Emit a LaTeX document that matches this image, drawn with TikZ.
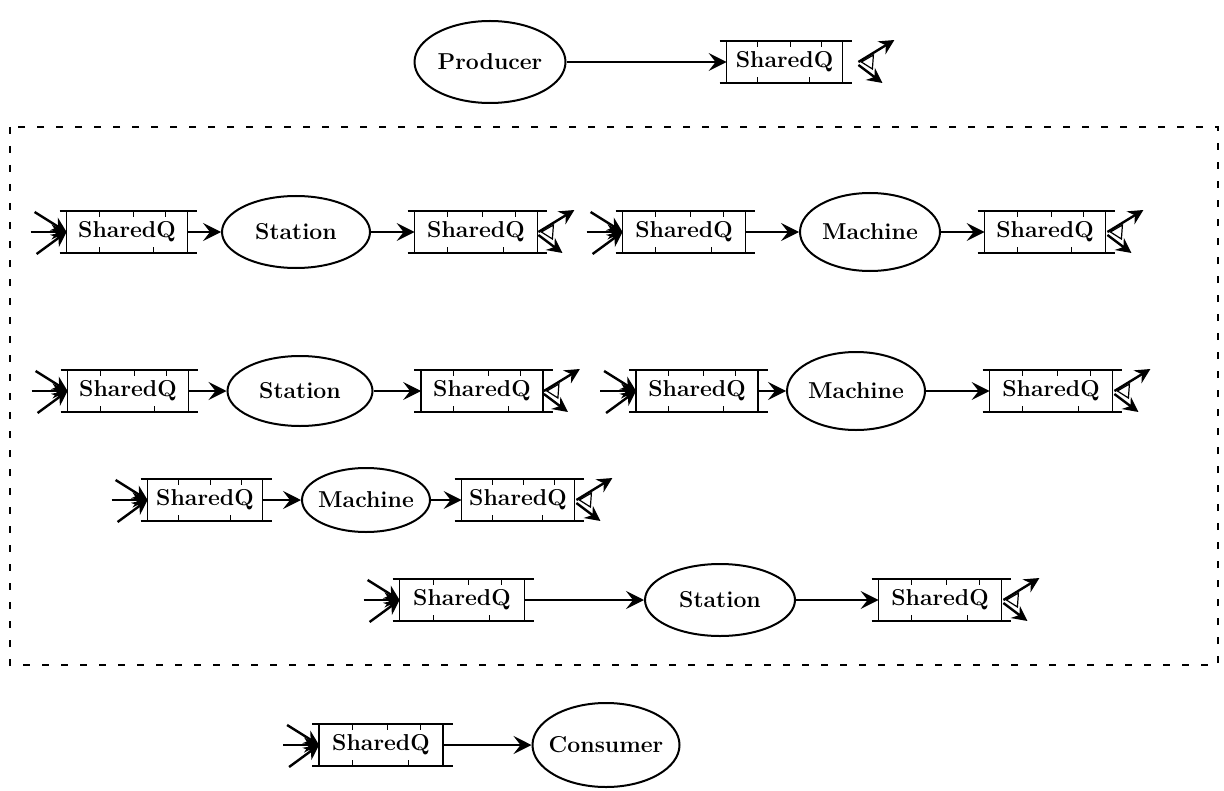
\documentclass[tikz,border=0pt]{standalone}
\usetikzlibrary{arrows.meta,calc,shapes.geometric}
\tikzset{
 proc/.style={ellipse, draw, line width=1pt, inner xsep=-5pt, inner ysep=0pt, font=\fontsize{11.5}{14}\selectfont\bfseries},
 qbox/.style={rectangle, inner sep=0pt, minimum height=20.5pt, font=\fontsize{11.5}{14}\selectfont\bfseries},
 qline/.style={line width=0.7pt},
 tick/.style={line width=0.5pt},
 conn/.style={line width=0.6pt, -{Stealth[length=9pt,width=9pt,inset=3.5pt]}},
 fanarr/.style={line width=1.2pt, -{Stealth[length=7.5pt,width=7.5pt,inset=2.5pt]}},
 frame/.style={line width=1pt, dash pattern=on 3.5pt off 6pt},
}
\newcommand\mkq[4]{%
 \node[qbox, minimum width=#4] (#1) at (#2,#3) {SharedQ};
 \draw[qline] ([xshift=-3.5pt]#1.north west) -- ([xshift=5pt]#1.north east);
 \draw[qline] ([xshift=-3.5pt]#1.south west) -- ([xshift=5pt]#1.south east);
 \draw[qline] (#1.north west) -- (#1.south west) (#1.north east) -- (#1.south east);
 \foreach \p in {0.27,0.55,0.82} \draw[tick] ($(#1.north west)!\p!(#1.north east)$) -- ++(0pt,-3pt);
 \foreach \p in {0.27,0.72} \draw[tick] ($(#1.south west)!\p!(#1.south east)$) -- ++(0pt,3pt);
}
\newcommand\fanin[1]{%
 \draw[fanarr] ($(#1.west)+(-16pt,10pt)$) -- (#1.west);
 \draw[fanarr] ($(#1.west)+(-18pt,0pt)$) -- (#1.west);
 \draw[fanarr] ($(#1.west)+(-15pt,-11pt)$) -- (#1.west);
}
\newcommand\fanout[2]{%
 \coordinate (#1o) at ($(#1.east)+(#2,0pt)$);
 \draw[fanarr] (#1o) -- ++(18pt,11pt);
 \draw[fanarr] ($(#1o)+(0pt,-1.5pt)$) -- ++(12pt,-9pt);
 \draw[line width=0.6pt] ($(#1o)+(1.5pt,0pt)$) -- ++(6pt,3.5pt) -- ++(-0.5pt,-7pt) -- cycle;
}
\begin{document}
\begin{tikzpicture}[x=0.5pt,y=-0.5pt]
\useasboundingbox (0,0) rectangle (1224,791);
% top
\node[proc, minimum width=75.5pt, minimum height=41pt] (prod) at (490,62) {Producer};
\mkq{q0}{784.5}{62}{57.5pt}
\draw[conn] (prod.east) -- (q0.west);
\fanout{q0}{8pt}
% frame
\draw[frame] (10,127) rectangle (1218,665);
% row 1
\mkq{q1}{127}{232}{60pt}
\node[proc, minimum width=74pt, minimum height=36pt] (st1) at (296,232) {Station};
\mkq{q2}{476}{232}{61pt}
\fanin{q1}
\draw[conn] (q1.east) -- (st1.west);
\draw[conn] (st1.east) -- (q2.west);
\fanout{q2}{0.5pt}
\mkq{q3}{684}{232}{61pt}
\node[proc, minimum width=70pt, minimum height=39pt] (m1) at (870,232) {Machine};
\mkq{q4}{1045}{232}{60pt}
\fanin{q3}
\draw[conn] (q3.east) -- (m1.west);
\draw[conn] (m1.east) -- (q4.west);
\fanout{q4}{1pt}
% row 2
\mkq{q5}{128}{391}{60pt}
\node[proc, minimum width=72.5pt, minimum height=35pt] (st2) at (300,391) {Station};
\mkq{q6}{482}{391}{60.5pt}
\fanin{q5}
\draw[conn] (q5.east) -- (st2.west);
\draw[conn] (st2.east) -- (q6.west);
\fanout{q6}{0.5pt}
\mkq{q7}{697}{391}{60.5pt}
\node[proc, minimum width=69pt, minimum height=39pt] (m2) at (856,391) {Machine};
\mkq{q8}{1051}{391}{61pt}
\fanin{q7}
\draw[conn] (q7.east) -- (m2.west);
\draw[conn] (m2.east) -- (q8.west);
\fanout{q8}{1pt}
% row 3
\mkq{q9}{205}{500}{57pt}
\node[proc, minimum width=64pt, minimum height=32pt] (m3) at (366,500) {Machine};
\mkq{q10}{518}{500}{56pt}
\fanin{q9}
\draw[conn] (q9.east) -- (m3.west);
\draw[conn] (m3.east) -- (q10.west);
\fanout{q10}{1pt}
% row 4
\mkq{q11}{462}{600}{62pt}
\node[proc, minimum width=75pt, minimum height=36pt] (st3) at (720,600) {Station};
\mkq{q12}{940}{600}{61pt}
\fanin{q11}
\draw[conn] (q11.east) -- (st3.west);
\draw[conn] (st3.east) -- (q12.west);
\fanout{q12}{1pt}
% bottom
\mkq{q13}{381}{745}{61.5pt}
\node[proc, minimum width=73.5pt, minimum height=42pt] (cons) at (606,745) {Consumer};
\fanin{q13}
\draw[conn] (q13.east) -- (cons.west);
\end{tikzpicture}
\end{document}
